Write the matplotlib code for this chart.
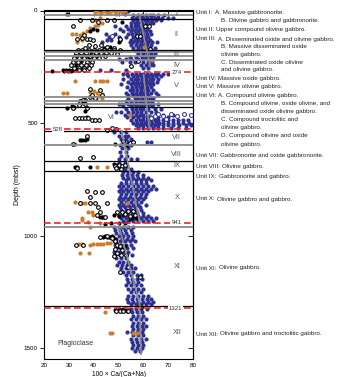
import matplotlib
matplotlib.use("Agg")
import matplotlib.pyplot as plt

plt.rcParams["font.family"] = ["Liberation Sans", "DejaVu Sans"]

# Plagioclase An content vs depth, rows of (depth mbsf, [100*Ca/(Ca+Na) values])
blue_rows = [
    (4, [46.6, 52.8, 54.0]),
    (14, [52.7]),
    (22, [56.0, 58.0, 59.5, 61.0, 62.5, 64.0, 66.0, 68.5]),
    (32, [55.5, 57.0, 58.5, 60.0, 61.5, 63.0, 64.5, 66.0, 67.5, 70.0, 72.0]),
    (43, [56.0, 57.5, 59.0, 60.5, 62.0, 63.5, 65.0, 67.0]),
    (55, [55.0, 56.5, 58.0, 59.5, 61.0, 62.5, 64.0]),
    (68, [48.7, 53.0, 55.0, 56.5, 58.0, 59.5, 61.0]),
    (80, [50.5, 54.0, 55.5, 57.0, 58.5, 60.0, 61.5]),
    (92, [52.0, 55.0, 56.5, 58.0, 59.5, 61.0, 62.5]),
    (105, [45.0, 48.5, 54.0, 55.5, 57.0, 58.5, 60.0, 61.5, 63.0]),
    (118, [46.0, 50.0, 53.0, 56.0, 57.5, 59.0, 60.5, 62.0]),
    (130, [45.3, 47.0, 55.0, 56.5, 58.0, 59.5, 61.0, 62.5]),
    (142, [43.5, 54.5, 56.0, 57.5, 59.0, 60.5, 62.0, 63.5, 65.5]),
    (155, [55.0, 57.0, 58.5, 60.0, 61.5, 63.0]),
    (166, [56.0, 58.0, 59.5, 61.0, 62.5, 64.5]),
    (180, [57.0, 59.0, 60.5, 62.0, 63.5, 65.0]),
    (192, [58.0, 60.0, 61.5, 63.0, 64.5]),
    (205, [54.5, 57.0, 59.5, 61.0, 62.5, 64.0]),
    (216, [50.0, 53.0, 55.0, 58.0, 60.0, 63.0]),
    (228, [51.5, 54.5, 56.5, 60.0, 62.0, 63.5]),
    (240, [59.0, 61.0, 62.5, 64.0]),
    (254, [60.0, 62.0]),
    (266, [42.6, 47.0, 53.0]),
    (280, [52.0, 53.5, 55.5, 57.0, 58.5, 60.0, 61.5, 63.0, 64.5, 66.0, 68.0, 70.0]),
    (292, [54.0, 56.0, 57.5, 59.0, 60.5, 62.0, 63.5, 65.0, 67.0]),
    (304, [52.0, 55.0, 56.5, 58.0, 59.5, 61.0, 62.5, 64.0, 66.0]),
    (316, [54.0, 56.0, 57.5, 59.0, 60.5, 62.0, 63.5, 65.5]),
    (328, [51.0, 55.0, 56.5, 58.0, 59.5, 61.0, 62.5, 64.0]),
    (340, [53.5, 55.5, 57.0, 58.5, 60.0, 61.5, 63.0]),
    (352, [54.5, 56.0, 57.5, 59.0, 60.5, 62.0, 64.0]),
    (364, [53.0, 55.5, 57.0, 58.5, 60.0, 61.5, 63.0, 65.0]),
    (376, [54.0, 56.0, 57.5, 59.0, 60.5, 62.0, 66.0]),
    (390, [54.0, 56.5, 58.0, 59.5, 61.0, 62.5, 64.0]),
    (402, [53.0, 55.0, 57.0, 58.5, 60.0, 62.0, 63.5]),
    (414, [50.0, 51.5, 54.0, 56.0, 57.5, 59.0, 61.0, 62.5, 64.0, 66.0]),
    (426, [52.0, 55.0, 57.0, 58.5, 60.0, 61.5, 63.5]),
    (438, [53.0, 55.5, 57.0, 58.5, 60.0, 62.0, 64.5, 67.0]),
    (450, [49.0, 51.0, 54.0, 56.0, 57.5, 59.0, 61.0, 63.0, 65.0]),
    (462, [52.5, 55.0, 57.0, 58.5, 60.0, 62.0, 68.0, 72.0]),
    (474, [53.5, 56.0, 58.0, 60.0, 61.5, 63.0, 66.0, 70.0]),
    (486, [55.0, 57.0, 58.5, 60.0, 61.5, 63.0, 64.5, 66.0, 68.0, 70.0, 72.0, 74.0, 76.0, 78.0]),
    (498, [56.0, 57.5, 59.0, 60.5, 62.0, 63.5, 65.0, 66.5, 68.0, 70.0, 72.0, 74.0, 76.0, 78.5]),
    (510, [57.0, 58.5, 60.0, 61.5, 63.0, 64.5, 66.0, 68.0, 70.0, 72.0, 74.5, 77.0, 79.0]),
    (520, [58.0, 60.0, 62.0, 64.0, 66.0, 68.0, 71.0, 74.0, 77.0]),
    (540, [48.0, 51.0, 53.0]),
    (555, [50.0, 52.5, 54.0]),
    (570, [51.0, 53.0, 55.0]),
    (585, [52.0, 54.0, 56.0, 61.5, 63.0]),
    (597, [50.5, 53.0, 55.0]),
    (612, [51.5, 54.0]),
    (628, [50.5, 53.0]),
    (645, [51.0, 53.5]),
    (660, [50.0, 52.5, 55.0, 57.4]),
    (676, [50.0, 52.5]),
    (690, [49.5, 51.5, 53.5]),
    (704, [50.5, 52.5, 55.0]),
    (718, [52.0, 54.0, 56.0, 58.0]),
    (730, [51.5, 53.5, 55.5, 57.5, 60.0]),
    (742, [52.0, 54.0, 56.0, 58.0, 60.0, 62.0]),
    (754, [53.0, 55.0, 57.0, 59.0, 61.0, 63.0]),
    (766, [51.0, 53.0, 55.0, 57.0, 59.0, 61.0]),
    (778, [50.0, 52.0, 54.0, 56.0, 58.0, 60.0, 62.0, 64.0]),
    (790, [51.0, 53.0, 55.0, 57.0, 59.0, 61.0, 63.0, 65.0]),
    (802, [50.0, 52.0, 54.0, 56.0, 58.0, 60.0, 62.0]),
    (814, [51.0, 53.0, 55.0, 57.0, 59.0, 61.0]),
    (826, [50.5, 52.5, 54.5, 56.5, 58.5, 60.5]),
    (838, [50.0, 52.0, 54.0, 56.0, 58.0, 60.0]),
    (850, [51.0, 53.0, 55.0, 57.0, 59.0]),
    (862, [50.0, 52.0, 54.0, 56.0, 58.0, 61.0]),
    (874, [50.5, 52.5, 54.5, 56.5, 58.5]),
    (886, [51.0, 53.0, 55.0, 57.0, 59.0]),
    (898, [49.5, 51.5, 53.5, 55.5, 57.5, 60.0]),
    (910, [50.0, 52.0, 54.0, 56.0, 58.0, 60.0, 62.0]),
    (922, [51.0, 53.0, 55.0, 57.0, 59.0, 61.0, 63.0, 65.0]),
    (934, [52.0, 54.0, 56.0, 58.0, 60.0, 62.0, 64.0]),
    (962, [48.0, 50.0, 52.0, 54.0, 56.0]),
    (975, [48.5, 50.5, 52.5, 55.0]),
    (988, [49.0, 51.0, 53.0, 55.5]),
    (1000, [50.0, 52.0, 54.0, 56.0]),
    (1012, [49.0, 51.5, 53.5, 55.5]),
    (1025, [48.0, 50.5, 52.5, 54.5, 56.5]),
    (1040, [48.5, 51.0, 53.0, 55.0]),
    (1055, [49.0, 51.0, 53.5, 56.0]),
    (1070, [48.0, 50.0, 52.0, 54.0]),
    (1085, [48.5, 50.5, 53.0, 55.5]),
    (1100, [49.0, 51.0, 53.0]),
    (1115, [50.0, 52.0, 54.0]),
    (1130, [49.5, 51.5, 53.5, 55.0]),
    (1145, [51.0, 53.0, 55.0, 56.5]),
    (1160, [52.0, 54.0, 56.0]),
    (1175, [53.0, 55.0, 57.5, 59.0]),
    (1190, [53.5, 55.5, 57.5, 59.5]),
    (1205, [54.0, 56.0, 58.0]),
    (1220, [53.0, 55.0, 57.0, 59.0]),
    (1235, [54.0, 56.0, 58.0, 60.0]),
    (1250, [55.0, 57.0, 59.0]),
    (1265, [54.0, 56.0, 58.0, 60.0, 62.0]),
    (1280, [53.5, 55.5, 57.5, 59.5, 61.5, 63.0]),
    (1292, [54.0, 56.0, 58.0, 60.0, 62.0, 64.0]),
    (1304, [55.0, 57.0, 59.0, 61.0, 63.0]),
    (1325, [55.0, 57.0, 59.0, 61.5]),
    (1340, [55.5, 57.5, 59.5]),
    (1355, [56.0, 58.0, 60.0]),
    (1370, [55.0, 57.0, 59.0, 61.0]),
    (1385, [56.0, 58.0, 60.0]),
    (1400, [55.5, 57.5, 59.5, 61.0]),
    (1415, [56.0, 58.0, 60.0]),
    (1428, [53.5, 55.5, 57.5, 59.5]),
    (1442, [56.0, 58.0, 60.0]),
    (1456, [55.0, 57.0, 59.0, 61.0]),
    (1470, [55.5, 57.5, 59.5]),
    (1484, [56.0, 58.0, 60.0]),
    (1498, [55.5, 57.5, 59.5]),
    (1512, [56.5, 58.5]),
]

open_blue_pts = [
    (47.3, 112), (62.0, 456), (64.5, 470), (66.0, 460), (68.0, 466), (71.0, 458),
    (73.5, 466), (76.5, 458), (79.0, 464), (63.0, 478), (69.0, 480),
]

orange_pts = [
    (40.5, 5), (41.5, 0), (43.0, 10), (44.0, 2), (45.5, 12), (47.0, 4), (48.5, 8),
    (50.0, 3), (51.5, 8), (52.5, 3), (42.5, 15), (46.0, 10), (49.0, 14),
    (31.2, 105), (32.9, 105), (34.5, 108), (35.9, 98), (37.5, 90), (38.6, 78),
    (40.6, 71), (41.9, 64), (43.3, 56), (42.6, 34), (40.6, 41), (33.2, 138),
    (35.2, 130), (60.1, 160),
    (33.9, 226), (35.2, 219), (37.9, 207), (39.9, 197), (43.3, 189), (63.4, 219),
    (34.5, 232), (36.5, 212),
    (32.5, 315), (40.6, 312), (42.6, 312), (43.9, 312), (45.3, 315),
    (27.8, 367), (29.1, 367), (38.6, 360), (40.0, 358), (41.5, 365), (39.9, 382),
    (42.0, 378), (43.5, 372), (41.0, 392), (43.3, 394),
    (54.7, 462), (32.5, 594),
    (41.2, 696), (45.3, 696),
    (35.2, 853), (36.5, 853), (32.5, 851), (37.9, 893), (39.2, 893), (39.9, 908),
    (35.2, 930), (35.2, 922), (53.4, 856), (37.9, 940), (42.6, 945), (38.6, 962),
    (33.9, 1035), (35.2, 1035), (38.6, 1040), (39.9, 1038), (41.2, 1038),
    (42.6, 1035), (43.9, 1035), (45.3, 1033), (46.6, 1030), (34.5, 1078), (38.3, 1078),
    (44.6, 1340), (46.6, 1433), (47.3, 1433), (56.0, 1433), (57.4, 1433),
]

black_pts = [
    (29.2, 16), (38.6, 89), (39.9, 83), (41.3, 86), (51.3, 49), (50.0, 138), (50.7, 130),
    (23.1, 268), (27.5, 264), (28.2, 268), (28.8, 262), (29.5, 268), (30.2, 264),
    (30.9, 268), (31.5, 262), (33.0, 260), (35.5, 253), (36.5, 246),
    (37.0, 197), (39.0, 185), (41.0, 190), (43.0, 180), (45.0, 176), (40.0, 205),
    (35.0, 225), (38.0, 215), (42.0, 200), (33.0, 240), (46.5, 160), (44.0, 168),
    (29.1, 431), (31.2, 426), (33.9, 416), (35.9, 411), (36.5, 448), (37.2, 471), (32.0, 430),
    (34.5, 574), (35.5, 574), (36.5, 574), (37.2, 571), (48.6, 594), (53.4, 597),
    (32.5, 696), (33.2, 696), (38.6, 696), (48.0, 681), (49.3, 685), (50.7, 690),
    (42.6, 918), (43.3, 916), (43.9, 918), (48.0, 908), (50.0, 911), (52.0, 905),
    (55.4, 919), (44.5, 948), (47.0, 945), (50.0, 945), (52.5, 944), (54.5, 925), (57.0, 920),
    (43.9, 1004), (44.6, 1000), (45.3, 1004), (46.0, 1004), (46.6, 1004), (47.3, 1000),
    (47.9, 1004), (48.5, 1015), (49.0, 1030), (50.0, 1050), (51.5, 1060), (52.5, 1045),
    (48.7, 1330), (50.0, 1326), (50.7, 1330), (51.3, 1330), (52.0, 1326), (52.7, 1330), (53.4, 1335),
]

open_pts = [
    (31.8, 68), (34.5, 41), (39.2, 41), (41.9, 49), (45.3, 44), (48.0, 44), (33.2, 127),
    (35.2, 123), (37.2, 127), (38.6, 127), (39.9, 130), (57.4, 115), (58.7, 112),
    (60.8, 68), (62.1, 68), (62.8, 172), (36.0, 110), (50.5, 125),
    (38.0, 155), (40.5, 158), (43.0, 155), (45.5, 162), (48.0, 165), (36.5, 165),
    (33.5, 175), (35.5, 175), (38.0, 175), (40.0, 175), (42.0, 175), (44.0, 175), (46.0, 175),
    (48.0, 175), (50.5, 175),
    (33.0, 188), (35.0, 188), (37.0, 188), (41.0, 188), (43.0, 188), (45.0, 188), (47.0, 188),
    (49.3, 192), (32.5, 200), (34.5, 200), (36.5, 200), (38.5, 200), (40.5, 200), (44.5, 200),
    (32.0, 213), (34.0, 213), (36.0, 213), (40.0, 213), (42.0, 213),
    (31.5, 228), (33.5, 228), (37.5, 228), (39.5, 228),
    (31.0, 242), (35.0, 242), (37.0, 242), (39.0, 242),
    (32.0, 255), (34.0, 255), (36.0, 255), (38.0, 255), (34.0, 266), (36.0, 266),
    (58.0, 226), (55.0, 245),
    (38.6, 348), (42.6, 355), (36.5, 397),
    (34.5, 401), (35.9, 397), (38.6, 382), (39.2, 374), (40.6, 388), (43.3, 377),
    (31.8, 433), (33.9, 420), (36.5, 415), (37.2, 432), (32.5, 475), (33.9, 475),
    (35.2, 475), (36.5, 475), (37.9, 478), (39.2, 485), (40.6, 485), (42.0, 485),
    (45.3, 530), (47.3, 523), (49.0, 525),
    (37.2, 557), (31.8, 592), (54.7, 589), (56.0, 582), (52.0, 580),
    (34.5, 656), (39.9, 651),
    (33.2, 698), (48.5, 688), (50.0, 684), (51.5, 692), (52.5, 686), (49.0, 698), (51.0, 703),
    (37.2, 801), (38.6, 826), (40.6, 807), (43.3, 807), (34.5, 856), (38.6, 856),
    (40.6, 856), (45.3, 856), (41.9, 871), (41.3, 908), (42.6, 893), (44.6, 915),
    (49.3, 893), (51.3, 893), (52.7, 905), (54.7, 911), (56.7, 908), (56.0, 890), (54.0, 890),
    (32.9, 1041), (35.9, 1041), (47.5, 1010), (48.7, 1025), (49.5, 1040), (50.5, 1045),
    (48.5, 1060), (51.5, 1065), (49.5, 1075), (51.0, 1085), (53.0, 1085), (48.0, 1090),
    (50.7, 1159), (54.0, 1137), (58.5, 1182), (59.0, 1315), (45.5, 1000), (42.5, 1005),
    (49.0, 1333), (50.5, 1335), (52.0, 1333), (54.0, 1335), (58.7, 1310),
]

# downhole trends (start x, start depth, end x, end depth)
trend_x0 = [58.5, 60.1, 51.3, 50.0, 58.5]
trend_d0 = [26, 285, 537, 950, 1320]
trend_x1 = [62.8, 62.4, 58.5, 58.7, 59.1]
trend_d1 = [250, 522, 939, 1310, 1525]

unit_names = ["I", "II", "III", "IV", "V", "VI", "VII", "VIII", "IX", "X", "XI", "XII"]
unit_label_depth = [16, 108, 194, 243, 333, 475, 563, 637, 690, 830, 1136, 1429]
unit_label_x = [73.5, 73.5, 73.5, 73.5, 73.5, 47.3, 73.5, 73.5, 73.5, 73.5, 73.5, 73.5]

major_bounds = [37, 174, 430, 535, 670, 711, 1311]
minor_bounds = [22, 184, 204, 219, 382, 401, 416, 599, 959]
red_depths = [274, 528, 941, 1321]
red_label_x = [73.3, 25.6, 73.3, 73.0]

# (unit tag, description, x of description in px)
unit_text = [
    ("Unit I:", "A. Massive gabbronorite.", 215),
    ("", "B. Olivine gabbro and gabbronorite.", 221),
    ("Unit II:", "Upper compound olivine gabbro.", 216),
    ("Unit III:", "A. Disseminated oxide and olivine gabbro.", 218),
    ("", "B. Massive disseminated oxide", 221),
    ("", "olivine gabbro.", 221),
    ("", "C. Disseminated oxide olivine", 221),
    ("", "and olivine gabbro.", 221),
    ("Unit IV:", "Massive oxide gabbro.", 218),
    ("Unit V:", "Massive olivine gabbro.", 217),
    ("Unit VI:", "A. Compound olivine gabbro.", 218),
    ("", "B. Compound olivine, oxide olivine, and", 221),
    ("", "disseminated oxide olivine gabbro.", 221),
    ("", "C. Compound troctolitic and", 221),
    ("", "olivine gabbro.", 221),
    ("", "D. Compound olivine and oxide", 221),
    ("", "olivine gabbro.", 221),
    ("Unit VII:", "Gabbronorite and oxide gabbronorite.", 220.5),
    ("Unit VIII:", "Olivine gabbro.", 222.5),
    ("Unit IX:", "Gabbronorite and gabbro.", 219),
    ("Unit X:", "Olivine gabbro and gabbro.", 217),
    ("Unit XI:", "Olivine gabbro.", 219),
    ("Unit XII:", "Olivine gabbro and troctolitic gabbro.", 220.5),
]
unit_text_y = [12.3, 20.7, 29.3, 39.0, 46.7, 54.3, 62.0, 70.0, 78.7, 86.7, 95.3, 103.3,
               111.3, 119.3, 127.0, 135.7, 144.3, 155.3, 166.7, 177.0, 199.0, 268.0, 334.0]

W, H = 352, 377
fig = plt.figure(figsize=(W / 100, H / 100), dpi=100)
ax = fig.add_axes([44 / W, 1 - 359.3 / H, 149 / W, 348.8 / H])

blue_x = [x for d, xs in blue_rows for x in xs]
blue_d = [d for d, xs in blue_rows for x in xs]
ax.scatter(blue_x, blue_d, s=9, color="#2e3192", linewidths=0, zorder=2)
ax.scatter(*zip(*open_blue_pts), s=8, facecolor="white", edgecolor="#2e3192", linewidths=0.7, zorder=2)
ax.scatter(*zip(*orange_pts), s=9, color="#c97e2e", linewidths=0, zorder=3)
ax.scatter(*zip(*black_pts), s=9, color="black", linewidths=0, zorder=4)
ax.scatter(*zip(*open_pts), s=7, facecolor="white", edgecolor="black", linewidths=0.8, zorder=4)

for d in minor_bounds:
    ax.axhline(d, color="#8a8a8a", lw=1.3, zorder=5)
for d in major_bounds:
    ax.axhline(d, color="black", lw=0.9, zorder=5)
for d, lx in zip(red_depths, red_label_x):
    ax.axhline(d, color="#e8262c", lw=1.2, ls=(0, (4, 2)), zorder=6)
    ax.text(lx, d, str(d), fontsize=4.3, ha="center", va="center", color="#333333", zorder=7,
            bbox=dict(facecolor="white", edgecolor="none", pad=0.6))

for x0, d0, x1, d1 in zip(trend_x0, trend_d0, trend_x1, trend_d1):
    ax.plot([x0, x1], [d0, d1], color="#8c8c8c", lw=1.2, zorder=6)

for name, d, x in zip(unit_names, unit_label_depth, unit_label_x):
    ax.text(x, d, name, fontsize=5.3, ha="center", va="center", color="#555555", zorder=7)

ax.text(25.5, 1477, "Plagioclase", fontsize=5, va="center", color="#333333")

ax.set_xlim(20, 80)
ax.set_ylim(1548, 0)
ax.set_xticks([20, 30, 40, 50, 60, 70, 80])
ax.set_yticks([0, 500, 1000, 1500])
ax.tick_params(axis="y", direction="out", length=3, width=0.6, labelsize=4.5, pad=1.5)
ax.tick_params(axis="x", direction="in", length=0, labelsize=4.5, pad=3)
ax.set_xlabel("100 × Ca/(Ca+Na)", fontsize=4.8, labelpad=1.5)
ax.set_ylabel("Depth (mbsf)", fontsize=5, labelpad=2)
for s in ax.spines.values():
    s.set_linewidth(0.8)

top = ax.secondary_xaxis("top")
top.set_xticks([20, 30, 40, 50, 60, 70, 80])
top.tick_params(direction="in", length=4, width=0.6, labeltop=False)
right = ax.secondary_yaxis("right")
right.set_yticks([0, 500, 1000, 1500])
right.tick_params(direction="in", length=3.5, width=0.6, labelright=False)

for (lab, desc, dx), y in zip(unit_text, unit_text_y):
    if lab:
        fig.text(196 / W, 1 - y / H, lab, fontsize=4.5, va="center", color="#222222")
    fig.text(dx / W, 1 - y / H, desc, fontsize=4.5, va="center", color="#222222")

fig.savefig("out.png", dpi=100)
